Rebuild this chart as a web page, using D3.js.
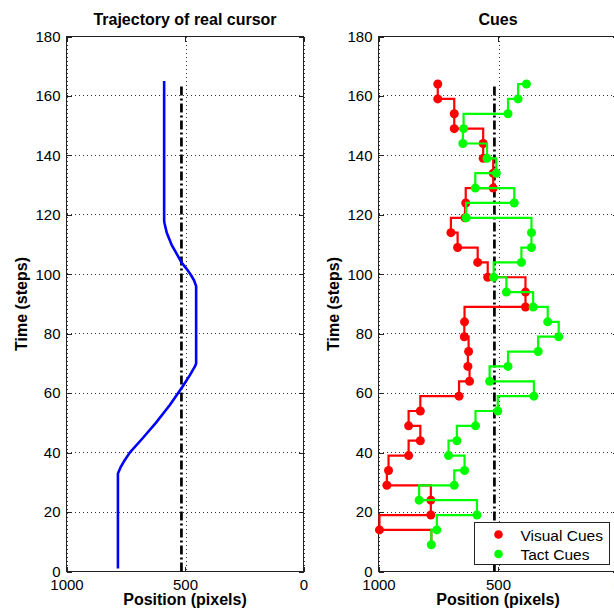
<!DOCTYPE html>
<html>
<head>
<meta charset="utf-8">
<script src="https://d3js.org/d3.v7.min.js"></script>
<style>
body { margin: 0; background: #fff; }
svg { display: block; font-family: "Liberation Sans", Arial, Helvetica, sans-serif; }
</style>
</head>
<body>
<svg id="chart" width="614" height="611"></svg>
<script>
// tick labels
var timeTicks = [0, 20, 40, 60, 80, 100, 120, 140, 160, 180];
var posTicks = [1000, 500, 0];

// real cursor trajectory
var trajTime = [1, 33, 35, 37, 40, 45, 50, 56, 62, 66, 69, 70, 96, 98, 100, 102, 104, 107, 110, 114, 117, 118, 165];
var trajPos  = [783, 783, 772, 758, 733, 677, 623, 564, 512, 480, 458, 453, 453, 462, 477, 495, 515, 536, 557, 577, 586, 588, 588];

// target (dash-dot) line
var targetPos = 515;
var targetTime = [0, 164];

// cues
var visualTime = [14, 19, 24, 29, 34, 39, 44, 49, 54, 59, 64, 69, 74, 79, 84, 89, 94, 99, 104, 109, 114, 119, 124, 129, 134, 139, 144, 149, 154, 159, 164];
var visualPos  = [996, 781, 781, 965, 958, 874, 825, 874, 825, 663, 619, 626, 623, 641, 640, 385, 385, 543, 585, 669, 697, 638, 635, 520, 520, 562, 562, 683, 683, 752, 752];

var tactTime = [9, 14, 19, 24, 29, 34, 39, 44, 49, 54, 59, 64, 69, 74, 79, 84, 89, 94, 99, 104, 109, 114, 119, 124, 129, 134, 139, 144, 149, 154, 159, 164];
var tactPos  = [779, 756, 588, 830, 683, 640, 707, 672, 594, 501, 350, 535, 458, 332, 246, 292, 353, 465, 518, 402, 360, 360, 633, 432, 595, 507, 546, 647, 644, 458, 416, 381];

var legendLabels = ["Visual Cues", "Tact Cues"];

var red = "#ff0000", green = "#00ff00", blue = "#0000ff";

var svg = d3.select("#chart");
var yTop = 36.5, yBottom = 571.5;

var y = d3.scaleLinear().domain([0, 180]).range([yBottom, yTop]);
var xLeft = d3.scaleLinear().domain([1000, 0]).range([66.5, 303.5]);
var xRight = d3.scaleLinear().domain([1000, 0]).range([378.5, 617.5]);

function drawFrame(x, title, labelX) {
    var g = svg.append("g");
    var x0 = x.range()[0], x1 = x.range()[1];

    // grid
    g.append("g").selectAll("line")
        .data(timeTicks).enter().append("line")
        .attr("x1", x0).attr("x2", x1)
        .attr("y1", function(d) { return y(d); })
        .attr("y2", function(d) { return y(d); })
        .attr("stroke", "#333").attr("stroke-width", 1)
        .attr("stroke-dasharray", "1,3")
        .attr("shape-rendering", "crispEdges");
    g.append("g").selectAll("line")
        .data(posTicks).enter().append("line")
        .attr("x1", function(d) { return x(d) + 1; })
        .attr("x2", function(d) { return x(d) + 1; })
        .attr("y1", yTop).attr("y2", yBottom)
        .attr("stroke", "#333").attr("stroke-width", 1)
        .attr("stroke-dasharray", "1,3")
        .attr("shape-rendering", "crispEdges");

    // axes, ticks inward
    g.append("g").attr("transform", "translate(0," + yBottom + ")")
        .call(d3.axisBottom(x).tickValues(posTicks).tickFormat(d3.format("d")).tickSize(-5).tickSizeOuter(0).tickPadding(8));
    g.append("g").attr("transform", "translate(" + x0 + ",0)")
        .call(d3.axisLeft(y).tickValues(timeTicks).tickFormat(d3.format("d")).tickSize(-5).tickSizeOuter(0).tickPadding(6));
    g.append("g").attr("transform", "translate(0," + yTop + ")")
        .call(d3.axisTop(x).tickValues(posTicks).tickSize(-5).tickSizeOuter(0).tickFormat(""));
    g.append("g").attr("transform", "translate(" + x1 + ",0)")
        .call(d3.axisRight(y).tickValues(timeTicks).tickSize(-5).tickSizeOuter(0).tickFormat(""));

    g.selectAll(".domain").remove();
    g.selectAll(".tick line").attr("stroke", "#222").attr("shape-rendering", "crispEdges");
    g.selectAll(".tick text").attr("fill", "#000").style("font-size", "15px")
        .style("font-family", "'Liberation Sans', Arial, sans-serif");

    g.append("rect")
        .attr("x", x0).attr("y", yTop)
        .attr("width", x1 - x0).attr("height", yBottom - yTop)
        .attr("fill", "none").attr("stroke", "#222")
        .attr("shape-rendering", "crispEdges");

    // texts
    g.append("text")
        .attr("x", (x0 + x1) / 2).attr("y", 25)
        .attr("text-anchor", "middle")
        .style("font-size", "16px").style("font-weight", "bold")
        .text(title);
    g.append("text")
        .attr("x", (x0 + x1) / 2).attr("y", 605)
        .attr("text-anchor", "middle")
        .style("font-size", "16px").style("font-weight", "bold")
        .text("Position (pixels)");
    g.append("text")
        .attr("transform", "translate(" + labelX + "," + (yTop + yBottom) / 2 + ") rotate(-90)")
        .attr("text-anchor", "middle")
        .style("font-size", "16px").style("font-weight", "bold")
        .text("Time (steps)");

    // target line
    g.append("path")
        .datum(targetTime)
        .attr("d", d3.line().x(function() { return x(targetPos); }).y(function(d) { return y(d); }))
        .attr("fill", "none").attr("stroke", "#000").attr("stroke-width", 2.7)
        .attr("stroke-dasharray", "9,3,2,3");
}

// ---- left panel: trajectory
drawFrame(xLeft, "Trajectory of real cursor", 27);

var traj = trajTime.map(function(t, i) { return { t: t, pos: trajPos[i] }; });
svg.append("path")
    .datum(traj)
    .attr("d", d3.line().x(function(d) { return xLeft(d.pos); }).y(function(d) { return y(d.t); }))
    .attr("fill", "none").attr("stroke", blue).attr("stroke-width", 2.6)
    .attr("stroke-linejoin", "round");

// ---- right panel: cues
drawFrame(xRight, "Cues", 338.5);

var visual = visualTime.map(function(t, i) { return { t: t, pos: visualPos[i] }; });
var tact = tactTime.map(function(t, i) { return { t: t, pos: tactPos[i] }; });
// visual stairs start from the first tact cue
var visualLine = [tact[0]].concat(visual);

var stairs = d3.line()
    .x(function(d) { return xRight(d.pos); })
    .y(function(d) { return y(d.t); })
    .curve(d3.curveStepBefore);

svg.append("path").datum(visualLine)
    .attr("d", stairs).attr("fill", "none").attr("stroke", red).attr("stroke-width", 2.2);
svg.append("g").selectAll("circle")
    .data(visual).enter().append("circle")
    .attr("cx", function(d) { return xRight(d.pos); })
    .attr("cy", function(d) { return y(d.t); })
    .attr("r", 4.5).attr("fill", red);

svg.append("path").datum(tact)
    .attr("d", stairs).attr("fill", "none").attr("stroke", green).attr("stroke-width", 2.2);
svg.append("g").selectAll("circle")
    .data(tact).enter().append("circle")
    .attr("cx", function(d) { return xRight(d.pos); })
    .attr("cy", function(d) { return y(d.t); })
    .attr("r", 4.5).attr("fill", green);

// legend
var legend = svg.append("g").attr("transform", "translate(474.5,522.5)");
legend.append("rect")
    .attr("width", 135).attr("height", 42)
    .attr("fill", "#fff").attr("stroke", "#222")
    .attr("shape-rendering", "crispEdges");
var item = legend.selectAll(".item")
    .data(legendLabels).enter().append("g")
    .attr("class", "item")
    .attr("transform", function(d, i) { return "translate(0," + (12 + i * 19.5) + ")"; });
item.append("circle")
    .attr("cx", 24).attr("cy", 0).attr("r", 4.3)
    .attr("fill", function(d, i) { return i === 0 ? red : green; });
item.append("text")
    .attr("x", 46).attr("y", 6)
    .style("font-size", "15.5px")
    .text(function(d) { return d; });
</script>
</body>
</html>
